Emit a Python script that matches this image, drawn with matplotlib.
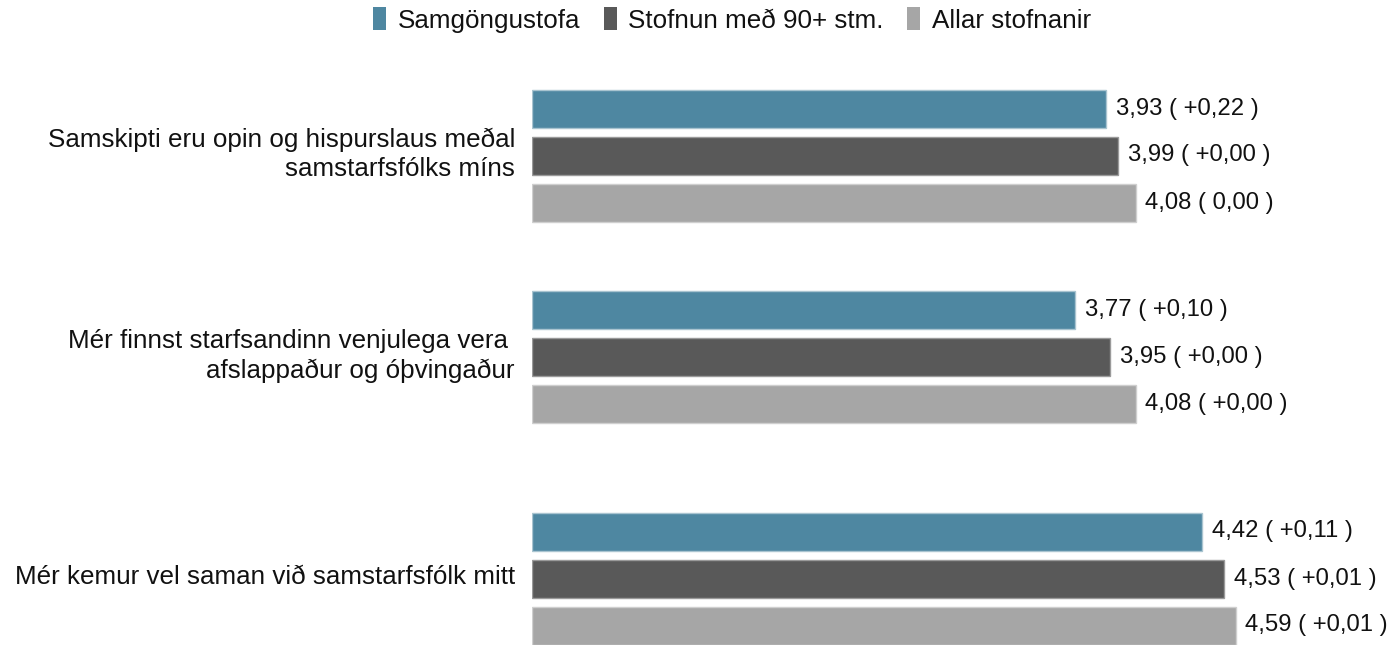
import matplotlib.pyplot as plt
from matplotlib.patches import Patch

plt.rcParams['font.family'] = ['Liberation Sans', 'DejaVu Sans']

questions = [
    "Samskipti eru opin og hispurslaus meðal\nsamstarfsfólks míns",
    "Mér finnst starfsandinn venjulega vera \nafslappaður og óþvingaður",
    "Mér kemur vel saman við samstarfsfólk mitt",
]
series = ["Samgöngustofa", "Stofnun með 90+ stm.", "Allar stofnanir"]
samgongustofa = [3.93, 3.77, 4.42]
stofnun_90 = [3.99, 3.95, 4.53]
allar = [4.08, 4.08, 4.59]
change_samgongustofa = ["+0,22", "+0,10", "+0,11"]
change_stofnun_90 = ["+0,00", "+0,00", "+0,01"]
change_allar = ["0,00", "+0,00", "+0,01"]

colors = ["#4e87a1", "#595959", "#a6a6a6"]
edges = ["#a9c4d0", "#9a9a9a", "#cfcfcf"]

# layout: y in pixel units of the figure (top = 0)
group_y = [155.5, 357, 578.5]
offsets = [-47, 0, 47]
bar_h = 38

fig = plt.figure(figsize=(13.93, 6.45), dpi=100)
ax = fig.add_axes([532 / 1393, 0, 1 - 532 / 1393, 1])
ax.set_xlim(1, 1 + 861 / 196)
ax.set_ylim(645, 0)
ax.axis("off")

values = [samgongustofa, stofnun_90, allar]
changes = [change_samgongustofa, change_stofnun_90, change_allar]
for s in range(3):
    ys = [g + offsets[s] for g in group_y]
    ax.barh(ys, [v - 1 for v in values[s]], left=1, height=bar_h,
            color=colors[s], edgecolor=edges[s], linewidth=1)
    for y, v, c in zip(ys, values[s], changes[s]):
        lbl = f"{v:.2f}".replace(".", ",") + " ( " + c + " )"
        ax.text(v + 0.05, y, lbl, va="center", ha="left", fontsize=17.2,
                color="#111111", clip_on=False)

for q, g in zip(questions, group_y):
    fig.text(515 / 1393, 1 - g / 645 + 0.002, q, ha="right", va="center",
             fontsize=18.7, color="#111111", linespacing=1.27)

handles = [Patch(facecolor=c, edgecolor="none") for c in colors]
fig.legend(handles, series, loc="upper center", ncol=3, frameon=False,
           bbox_to_anchor=(732 / 1393, 1.025), fontsize=18.7,
           handlelength=0.5, handleheight=1.0, handletextpad=0.45,
           columnspacing=0.9, labelcolor="#111111")

fig.savefig("out.png", dpi=100)
